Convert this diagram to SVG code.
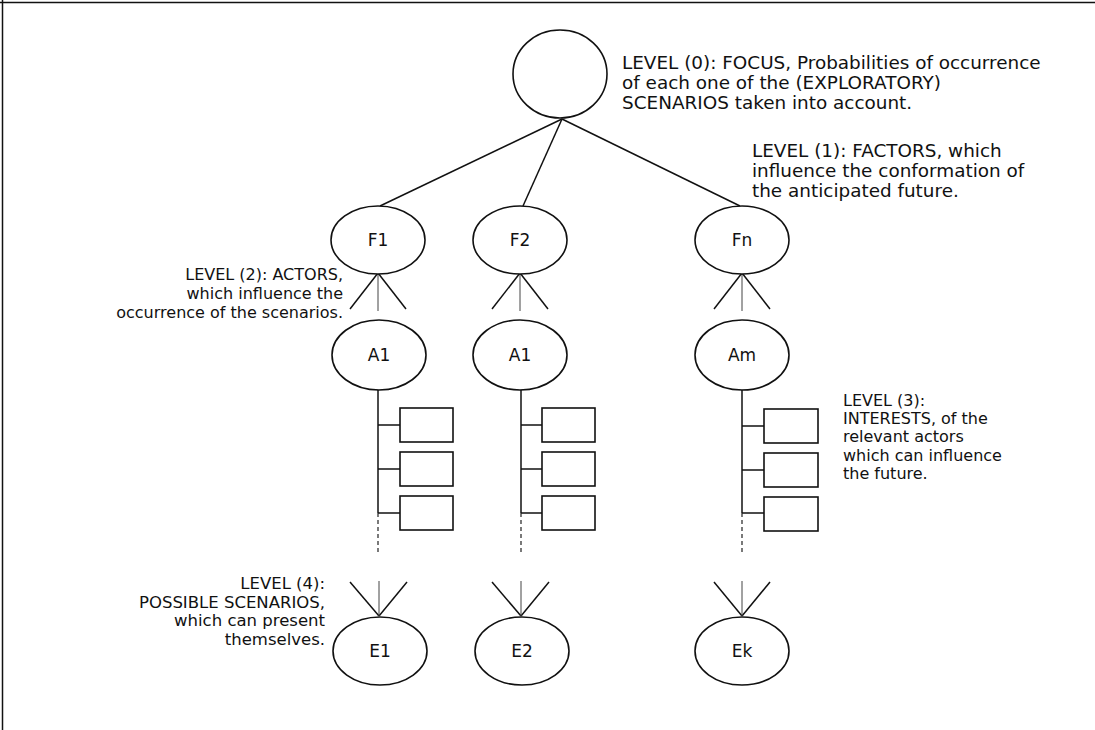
<svg xmlns="http://www.w3.org/2000/svg" width="1095" height="730" viewBox="0 0 1095 730">
<style>
.n{fill:#fff;stroke:#111;stroke-width:1.6}
.b{fill:#fff;stroke:#111;stroke-width:1.6}
.c{fill:none;stroke:#111;stroke-width:1.5}
.t{stroke:#444;stroke-width:1}
.d{fill:none;stroke:#222;stroke-width:1.2;stroke-dasharray:4 3}
text{font-family:"DejaVu Sans","Liberation Sans",sans-serif;font-size:16px;fill:#111}
.big{font-size:18.4px}
.l{font-size:17px;text-anchor:middle}
.r{text-anchor:end}
.r4{font-size:16.5px;text-anchor:end}
</style>
<rect width="1095" height="730" fill="#fff"/>
<g id="frame" class="c">
<line x1="0" y1="2.5" x2="1095" y2="2.5"/>
<line x1="2.5" y1="0" x2="2.5" y2="730"/>
</g>
<g id="connectors">
<g class="c">
<line x1="562" y1="119" x2="380" y2="206"/>
<line x1="562" y1="119" x2="523" y2="206"/>
<line x1="562" y1="119" x2="740" y2="206"/>
<line x1="378" y1="273" x2="350" y2="309"/>
<line x1="378" y1="273" x2="406" y2="309"/>
<line x1="520" y1="273" x2="492" y2="309"/>
<line x1="520" y1="273" x2="548" y2="309"/>
<line x1="742" y1="273" x2="714" y2="309"/>
<line x1="742" y1="273" x2="770" y2="309"/>
<line x1="350" y1="582" x2="379" y2="616"/>
<line x1="407" y1="582" x2="379" y2="616"/>
<line x1="492" y1="582" x2="521" y2="616"/>
<line x1="549" y1="582" x2="521" y2="616"/>
<line x1="714" y1="582" x2="742" y2="616"/>
<line x1="770" y1="582" x2="742" y2="616"/>
<line x1="378" y1="390" x2="378" y2="513"/>
<line x1="378" y1="425" x2="400" y2="425"/>
<line x1="378" y1="469" x2="400" y2="469"/>
<line x1="378" y1="513" x2="400" y2="513"/>
<line x1="521" y1="390" x2="521" y2="513"/>
<line x1="521" y1="425" x2="542" y2="425"/>
<line x1="521" y1="469" x2="542" y2="469"/>
<line x1="521" y1="513" x2="542" y2="513"/>
<line x1="742" y1="390" x2="742" y2="513"/>
<line x1="742" y1="426" x2="764" y2="426"/>
<line x1="742" y1="470" x2="764" y2="470"/>
<line x1="742" y1="513" x2="764" y2="513"/>
</g>
<g class="t">
<line x1="378" y1="273" x2="378" y2="311"/>
<line x1="520" y1="273" x2="520" y2="311"/>
<line x1="742" y1="273" x2="742" y2="311"/>
<line x1="379" y1="581" x2="379" y2="616"/>
<line x1="521" y1="581" x2="521" y2="616"/>
<line x1="742" y1="581" x2="742" y2="616"/>
</g>
<g class="d">
<line x1="378" y1="513" x2="378" y2="555"/>
<line x1="521" y1="513" x2="521" y2="555"/>
<line x1="742" y1="513" x2="742" y2="555"/>
</g>
</g>
<g id="focus"><ellipse class="n" cx="560" cy="74" rx="47" ry="44"/></g>
<g id="F1"><ellipse class="n" cx="378" cy="240" rx="47" ry="34"/><text class="l" x="378" y="246">F1</text></g>
<g id="F2"><ellipse class="n" cx="520" cy="240" rx="47" ry="34"/><text class="l" x="520" y="246">F2</text></g>
<g id="Fn"><ellipse class="n" cx="742" cy="240" rx="47" ry="34"/><text class="l" x="742" y="246">Fn</text></g>
<g id="A1a"><ellipse class="n" cx="379" cy="355" rx="47" ry="35"/><text class="l" x="379" y="361">A1</text></g>
<g id="A1b"><ellipse class="n" cx="520" cy="355" rx="47" ry="35"/><text class="l" x="520" y="361">A1</text></g>
<g id="Am"><ellipse class="n" cx="742" cy="355" rx="47" ry="35"/><text class="l" x="742" y="361">Am</text></g>
<g id="interests1">
<rect class="b" x="400" y="408" width="53" height="34"/>
<rect class="b" x="400" y="452" width="53" height="34"/>
<rect class="b" x="400" y="496" width="53" height="34"/>
</g>
<g id="interests2">
<rect class="b" x="542" y="408" width="53" height="34"/>
<rect class="b" x="542" y="452" width="53" height="34"/>
<rect class="b" x="542" y="496" width="53" height="34"/>
</g>
<g id="interests3">
<rect class="b" x="764" y="409" width="54" height="34"/>
<rect class="b" x="764" y="453" width="54" height="34"/>
<rect class="b" x="764" y="497" width="54" height="34"/>
</g>
<g id="E1"><ellipse class="n" cx="380" cy="651" rx="47" ry="34"/><text class="l" x="380" y="657">E1</text></g>
<g id="E2"><ellipse class="n" cx="522" cy="651" rx="47" ry="34"/><text class="l" x="522" y="657">E2</text></g>
<g id="Ek"><ellipse class="n" cx="742" cy="651" rx="47" ry="34"/><text class="l" x="742" y="657">Ek</text></g>
<g id="level0" class="big">
<text class="big" x="622" y="69">LEVEL (0): FOCUS, Probabilities of occurrence</text>
<text class="big" x="622" y="89">of each one of the (EXPLORATORY)</text>
<text class="big" x="622" y="109">SCENARIOS taken into account.</text>
</g>
<g id="level1">
<text class="big" x="752" y="157">LEVEL (1): FACTORS, which</text>
<text class="big" x="752" y="177">influence the conformation of</text>
<text class="big" x="752" y="197">the anticipated future.</text>
</g>
<g id="level2">
<text class="r" x="343" y="280">LEVEL (2): ACTORS,</text>
<text class="r" x="343" y="299">which influence the</text>
<text class="r" x="343" y="318">occurrence of the scenarios.</text>
</g>
<g id="level3">
<text x="843" y="406">LEVEL (3):</text>
<text x="843" y="424">INTERESTS, of the</text>
<text x="843" y="442">relevant actors</text>
<text x="843" y="461">which can influence</text>
<text x="843" y="479">the future.</text>
</g>
<g id="level4">
<text class="r4" x="325" y="589">LEVEL (4):</text>
<text class="r4" x="325" y="608">POSSIBLE SCENARIOS,</text>
<text class="r4" x="325" y="626">which can present</text>
<text class="r4" x="325" y="645">themselves.</text>
</g>
</svg>
